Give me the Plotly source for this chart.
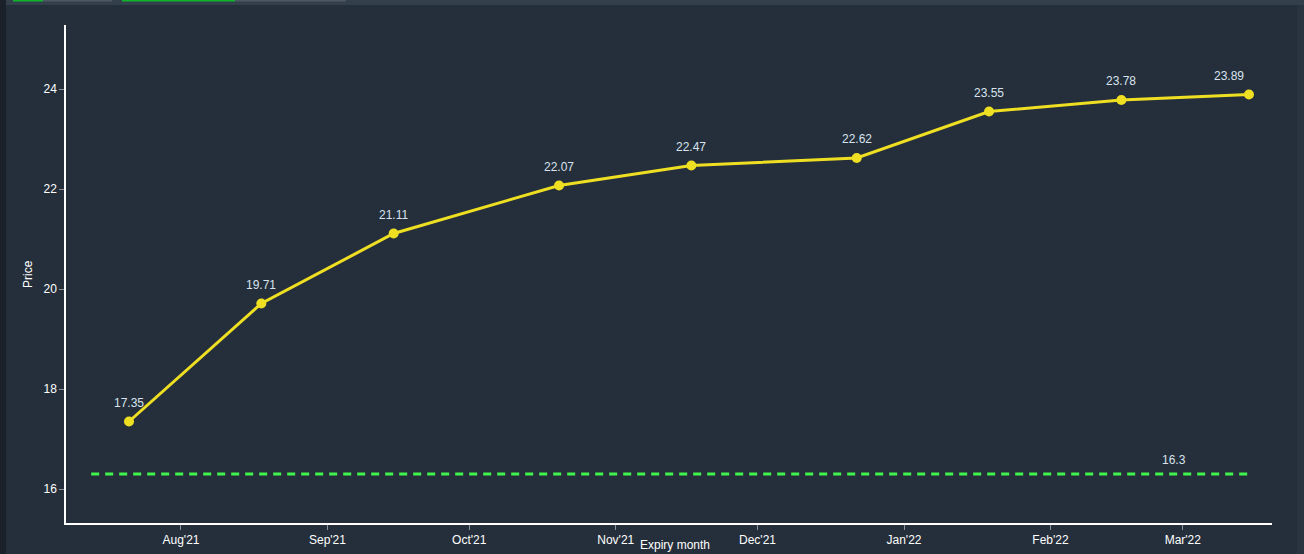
import plotly.graph_objects as go

# ---- data ----
expiry_dates = ["2021-07-21", "2021-08-18", "2021-09-15", "2021-10-20", "2021-11-17",
                "2021-12-22", "2022-01-19", "2022-02-16", "2022-03-15"]
prices = [17.35, 19.71, 21.11, 22.07, 22.47, 22.62, 23.55, 23.78, 23.89]
spot_value = 16.3
spot_dates = ["2021-07-13", "2022-03-15"]
spot_label_date = "2022-03-01"
y_ticks = [16, 18, 20, 22, 24]
x_title = "Expiry month"
y_title = "Price"

BG = "#252f3b"
W, H = 1304, 554
L, R, T, B = 66, 1272, 25, 523


def px_x(p):
    return (p - L) / (R - L)


def px_y(p):
    return (B - p) / (B - T)


fig = go.Figure()

fig.add_trace(go.Scatter(
    x=spot_dates, y=[spot_value] * len(spot_dates), mode="lines",
    line=dict(color="#40f44c", width=3, dash="8px,6px"),
    hoverinfo="skip", showlegend=False))

fig.add_trace(go.Scatter(
    x=expiry_dates, y=prices, mode="lines+markers",
    line=dict(color="#efdf22", width=3),
    marker=dict(color="#efdf22", size=10),
    showlegend=False))

annots = []
for i, (d, v) in enumerate(zip(expiry_dates, prices)):
    annots.append(dict(
        x=d, y=v, xref="x", yref="y", text=f"{v:.2f}", showarrow=False,
        yshift=19, xshift=(-20 if i == len(prices) - 1 else 0),
        font=dict(family="Arial", size=12, color="#d8e3ee")))
annots.append(dict(
    x=spot_label_date, y=spot_value, xref="x", yref="y", text=f"{spot_value}",
    showarrow=False, yshift=14, xshift=-9,
    font=dict(family="Arial", size=12, color="#d8e3ee")))
# axis titles
annots.append(dict(
    x=px_x(675), y=px_y(554), xref="paper", yref="paper", text=x_title,
    showarrow=False, xanchor="center", yanchor="bottom",
    font=dict(family="Arial", size=12, color="#ffffff")))
annots.append(dict(
    x=px_x(28), y=px_y(274), xref="paper", yref="paper", text=y_title,
    showarrow=False, xanchor="center", yanchor="middle", textangle=-90,
    font=dict(family="Arial", size=12, color="#ffffff")))

shapes = [
    dict(type="rect", xref="paper", yref="paper", x0=px_x(0), x1=px_x(6),
         y0=px_y(H), y1=px_y(0), fillcolor="#1b212b", line=dict(width=0), layer="below"),
    dict(type="rect", xref="paper", yref="paper", x0=px_x(6), x1=px_x(W),
         y0=px_y(5), y1=px_y(0), fillcolor="#343f4c", line=dict(width=0), layer="below"),
    dict(type="rect", xref="paper", yref="paper", x0=px_x(1297), x1=px_x(W),
         y0=px_y(H), y1=px_y(5), fillcolor="#2a3441", line=dict(width=0), layer="below"),
    dict(type="rect", xref="paper", yref="paper", x0=px_x(13), x1=px_x(43),
         y0=px_y(1.5), y1=px_y(0), fillcolor="#0fb42a", line=dict(width=0), layer="below"),
    dict(type="rect", xref="paper", yref="paper", x0=px_x(43), x1=px_x(112),
         y0=px_y(1.5), y1=px_y(0), fillcolor="#4c5664", line=dict(width=0), layer="below"),
    dict(type="rect", xref="paper", yref="paper", x0=px_x(122), x1=px_x(235),
         y0=px_y(1.5), y1=px_y(0), fillcolor="#0fb42a", line=dict(width=0), layer="below"),
    dict(type="rect", xref="paper", yref="paper", x0=px_x(235), x1=px_x(346),
         y0=px_y(1.5), y1=px_y(0), fillcolor="#4c5664", line=dict(width=0), layer="below"),
]

fig.update_layout(
    width=W, height=H,
    margin=dict(l=L, r=W - R, t=T, b=H - B, pad=0, autoexpand=False),
    paper_bgcolor=BG, plot_bgcolor=BG,
    font=dict(family="Arial", color="#ffffff", size=12),
    annotations=annots, shapes=shapes,
    showlegend=False,
    xaxis=dict(
        type="date", range=["2021-07-07 16:00", "2022-03-19 21:00"],
        tick0="2021-08-01", dtick="M1", tickformat="%b'%y",
        showgrid=False, zeroline=False, automargin=False,
        showline=True, linecolor="#ffffff", linewidth=1.5,
        ticks="outside", ticklen=5, tickcolor="#8a929c", tickwidth=1,
        tickfont=dict(family="Arial", size=12, color="#ffffff"),
    ),
    yaxis=dict(
        range=[15.32, 25.28], tickvals=y_ticks,
        showgrid=False, zeroline=False, automargin=False,
        showline=True, linecolor="#ffffff", linewidth=1.5,
        ticks="outside", ticklen=5, tickcolor="#8a929c", tickwidth=1,
        tickfont=dict(family="Arial", size=12, color="#ffffff"),
    ),
)

fig.write_html("out.html", config={"displayModeBar": False},
               post_script="document.body.style.margin='0';document.body.style.background='%s';" % BG)
